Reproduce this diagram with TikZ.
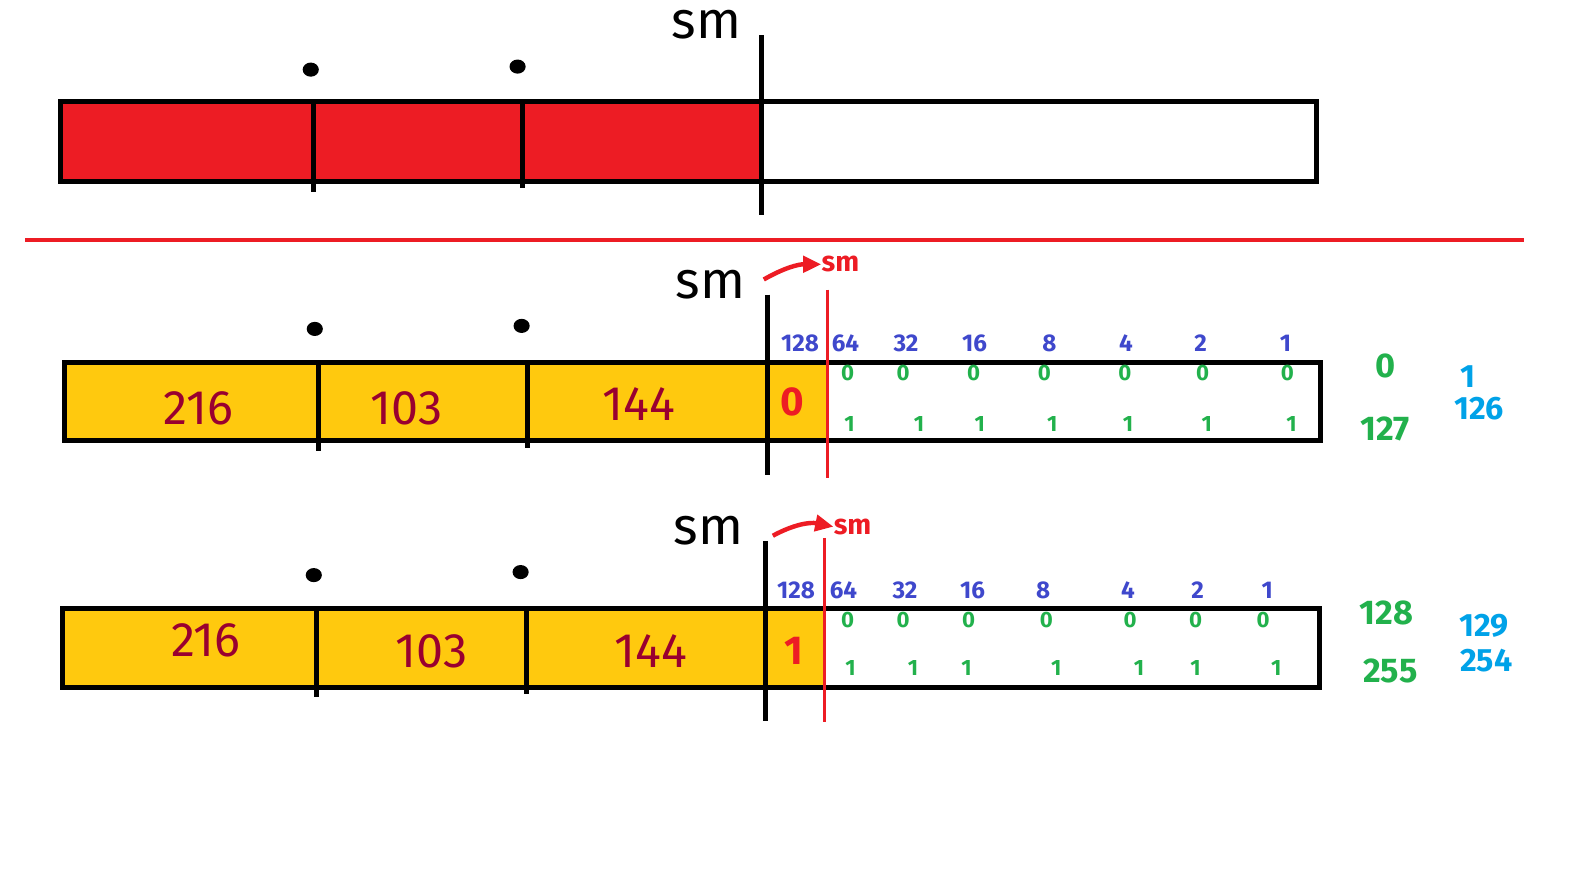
\documentclass[tikz,border=0pt]{standalone}
\usepackage{fontspec}
\setmainfont{Fira Sans}
\usetikzlibrary{arrows.meta}
\definecolor{rfill}{HTML}{ED1C24}
\definecolor{yfill}{HTML}{FFC90E}
\definecolor{maroon}{HTML}{990030}
\definecolor{bluew}{HTML}{3F48CC}
\definecolor{greenb}{HTML}{22B14C}
\definecolor{lblue}{HTML}{00A2E8}
\tikzset{
  blk/.style={line width=2.4pt, black},
  redln/.style={line width=1.6pt, rfill},
  dotmark/.style={ellipse, fill=black, inner sep=0pt, minimum width=8pt, minimum height=7pt},
  smlabel/.style={font=\fontsize{26}{26}\selectfont, inner sep=0pt},
  smred/.style={font=\fontsize{14}{14}\selectfont\bfseries, text=rfill, inner sep=0pt},
  bignum/.style={font=\fontsize{24}{24}\selectfont, text=maroon, inner sep=0pt},
  bitred/.style={font=\fontsize{20}{20}\selectfont\bfseries, text=rfill, inner sep=0pt},
  weight/.style={font=\fontsize{12}{12}\selectfont\bfseries, text=bluew, inner sep=0pt},
  gbit/.style={font=\fontsize{11}{11}\selectfont\bfseries, text=greenb, inner sep=0pt},
  gside/.style={font=\fontsize{17}{17}\selectfont\bfseries, text=greenb, inner sep=0pt},
  bside/.style={font=\fontsize{16}{16}\selectfont\bfseries, text=lblue, inner sep=0pt},
  redarrow/.style={line width=2.2pt, rfill, -{Triangle[length=9pt,width=8pt]}}
}
\usetikzlibrary{shapes.geometric}
\begin{document}
\begin{tikzpicture}[x=0.5pt,y=-0.5pt]
\useasboundingbox (0,0) rectangle (1568,884);
\fill[white] (0,0) rectangle (1568,884);

% ---------- top bar ----------
\fill[rfill] (60,101) rectangle (755,180);
\draw[blk] (60,101) rectangle (1305,180);
\coordinate (t1a) at (311,101); \coordinate (t1b) at (311,190);
\coordinate (t2a) at (518,101); \coordinate (t2b) at (518,186);
\coordinate (t3a) at (755,35);  \coordinate (t3b) at (755,213);
\draw[blk] (t1a) -- (t1b);
\draw[blk] (t2a) -- (t2b);
\draw[blk] (t3a) -- (t3b);
\node[dotmark] (td1) at (308,69) {};
\node[dotmark] (td2) at (513,66) {};
\node[smlabel] (tsm) at (700,24) {sm};

% separator
\coordinate (sepA) at (25,238); \coordinate (sepB) at (1510,238);
\draw[line width=2pt, rfill] (sepA) -- (sepB);

% ---------- middle bar ----------
\fill[yfill] (64,359) rectangle (820,437);
\draw[blk] (64,359) rectangle (1309,437);
\coordinate (m1a) at (316,359); \coordinate (m1b) at (316,447);
\coordinate (m2a) at (523,359); \coordinate (m2b) at (523,444);
\coordinate (m3a) at (761,292); \coordinate (m3b) at (761,471);
\coordinate (mra) at (820,287); \coordinate (mrb) at (820,474);
\draw[blk] (m1a) -- (m1b);
\draw[blk] (m2a) -- (m2b);
\draw[blk] (m3a) -- (m3b);
\draw[redln] (mra) -- (mrb);
\node[dotmark] (md1) at (312,326) {};
\node[dotmark] (md2) at (517,323) {};
\node[smlabel] (msm) at (704,282) {sm};
\node[smred] (msmr) at (833,262) {sm};
\coordinate (marr) at (757,277);
\draw[redarrow] (marr) to[bend left=15] (msmr.west);
\node[bignum] (m216) at (197,405) {216};
\node[bignum] (m103) at (403,405) {103};
\node[bignum] (m144) at (633,400) {144};
\node[bitred] (mbit) at (785,398) {0};
\foreach \w/\x in {128/793,64/838,32/898,16/966,8/1040,4/1116,2/1190,1/1274}
  \node[weight] (mw\w) at (\x,340) {\w};
\foreach \x [count=\i] in {840,895,965,1035,1115,1192,1276}
  \node[gbit] (mz\i) at (\x,370) {0};
\foreach \x [count=\i] in {842,911,971,1043,1118,1196,1280}
  \node[gbit] (mo\i) at (\x,420) {1};
\node[gside] (mg0) at (1373,363) {0};
\node[gside] (mg127) at (1373,425) {127};
\node[bside] (mb1) at (1455,373) {1};
\node[bside] (mb126) at (1466,405) {126};

% ---------- bottom bar ----------
\fill[yfill] (62,603) rectangle (817,681);
\draw[blk] (62,603) rectangle (1308,681);
\coordinate (b1a) at (314,603); \coordinate (b1b) at (314,691);
\coordinate (b2a) at (522,603); \coordinate (b2b) at (522,688);
\coordinate (b3a) at (759,536); \coordinate (b3b) at (759,715);
\coordinate (bra) at (817,533); \coordinate (brb) at (817,716);
\draw[blk] (b1a) -- (b1b);
\draw[blk] (b2a) -- (b2b);
\draw[blk] (b3a) -- (b3b);
\draw[redln] (bra) -- (brb);
\node[dotmark] (bd1) at (311,570) {};
\node[dotmark] (bd2) at (516,567) {};
\node[smlabel] (bsm) at (702,526) {sm};
\node[smred] (bsmr) at (845,522) {sm};
\coordinate (barr) at (766,531);
\draw[redarrow] (barr) to[bend left=20] (bsmr.west);
\node[bignum] (b216) at (204,635) {216};
\node[bignum] (b103) at (428,646) {103};
\node[bignum] (b144) at (645,645) {144};
\node[bitred] (bbit) at (787,645) {1};
\foreach \w/\x in {128/789,64/836,32/897,16/964,8/1034,4/1118,2/1187,1/1256}
  \node[weight] (bw\w) at (\x,585) {\w};
\foreach \x [count=\i] in {840,895,960,1037,1120,1185,1252}
  \node[gbit] (bz\i) at (\x,615) {0};
\foreach \x [count=\i] in {843,905,958,1047,1129,1185,1265}
  \node[gbit] (bo\i) at (\x,662) {1};
\node[gside] (bg128) at (1374,608) {128};
\node[gside] (bg255) at (1378,665) {255};
\node[bside] (bb129) at (1471,620) {129};
\node[bside] (bb254) at (1473,655) {254};
\end{tikzpicture}
\end{document}
